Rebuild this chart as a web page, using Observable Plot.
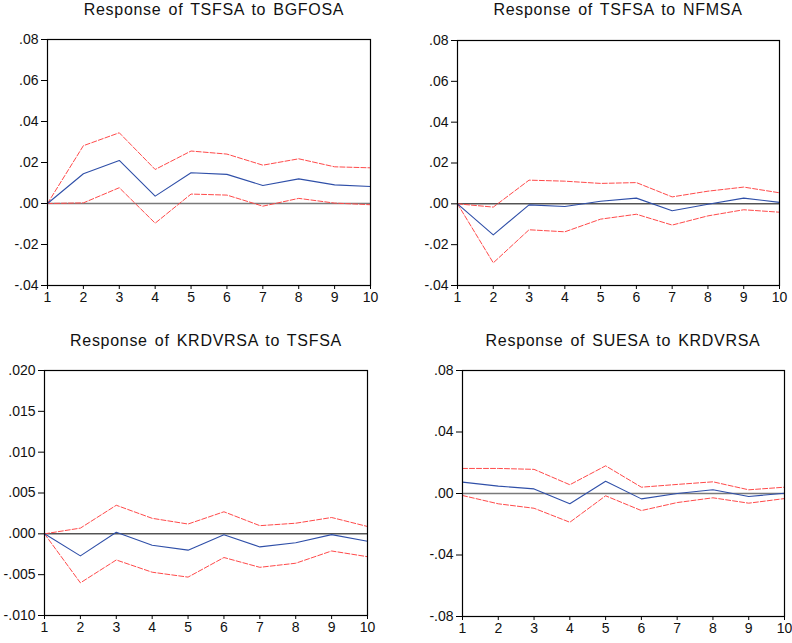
<!DOCTYPE html>
<html>
<head>
<meta charset="utf-8">
<script src="https://cdn.jsdelivr.net/npm/d3@7"></script>
<script src="https://cdn.jsdelivr.net/npm/@observablehq/plot@0.6"></script>
<style>
  html, body { margin: 0; padding: 0; background: #fff; }
  #root { position: relative; width: 792px; height: 643px; overflow: hidden; font-family: "Liberation Sans", Arial, sans-serif; }
  .panel { position: absolute; }
  .panel svg text { font-family: "Liberation Sans", Arial, sans-serif !important; font-size: 14px !important; fill: #111; }
  .title { position: absolute; font-size: 16px; line-height: 16px; letter-spacing: 0.7px; word-spacing: 2px; white-space: nowrap; color: #111; transform: translateX(-50%); }
</style>
</head>
<body>
<div id="root"></div>
<script>
// ---- data ----
const periods = [1, 2, 3, 4, 5, 6, 7, 8, 9, 10];
const periodLabels = ["1", "2", "3", "4", "5", "6", "7", "8", "9", "10"];

const titles = [
  "Response of TSFSA to BGFOSA",
  "Response of TSFSA to NFMSA",
  "Response of KRDVRSA to TSFSA",
  "Response of SUESA to KRDVRSA"
];

// Panel 1: TSFSA to BGFOSA
const p1Response = [0, 0.0145, 0.021, 0.0036, 0.015, 0.0142, 0.0088, 0.012, 0.0091, 0.0083];
const p1Upper    = [0, 0.0282, 0.0345, 0.0166, 0.0256, 0.0241, 0.0187, 0.0218, 0.0179, 0.0174];
const p1Lower    = [0, 0.0003, 0.0077, -0.0096, 0.0046, 0.0041, -0.0013, 0.0025, 0.0002, -0.0006];
const p1Ticks    = [-0.04, -0.02, 0, 0.02, 0.04, 0.06, 0.08];
const p1TickLabels = ["-.04", "-.02", ".00", ".02", ".04", ".06", ".08"];

// Panel 2: TSFSA to NFMSA
const p2Response = [0, -0.0152, -0.0005, -0.0013, 0.0013, 0.0028, -0.0034, -0.0002, 0.0028, 0.0007];
const p2Upper    = [0, -0.0016, 0.0116, 0.0111, 0.0100, 0.0104, 0.0034, 0.0062, 0.0082, 0.0054];
const p2Lower    = [0, -0.0289, -0.0127, -0.0137, -0.0075, -0.0051, -0.0104, -0.0059, -0.0029, -0.0041];
const p2Ticks    = [-0.04, -0.02, 0, 0.02, 0.04, 0.06, 0.08];
const p2TickLabels = ["-.04", "-.02", ".00", ".02", ".04", ".06", ".08"];

// Panel 3: KRDVRSA to TSFSA
const p3Response = [0, -0.0027, 0.0002, -0.0014, -0.0020, -0.0001, -0.0016, -0.0011, -0.0001, -0.0009];
const p3Upper    = [0, 0.0007, 0.0035, 0.0019, 0.0012, 0.0027, 0.0010, 0.0013, 0.0020, 0.0009];
const p3Lower    = [0, -0.0060, -0.0032, -0.0047, -0.0053, -0.0029, -0.0041, -0.0036, -0.0021, -0.0028];
const p3Ticks    = [-0.010, -0.005, 0, 0.005, 0.010, 0.015, 0.020];
const p3TickLabels = ["-.010", "-.005", ".000", ".005", ".010", ".015", ".020"];

// Panel 4: SUESA to KRDVRSA
const p4Response = [0.0074, 0.0048, 0.0030, -0.0067, 0.0080, -0.0035, 0, 0.0024, -0.0020, 0.0002];
const p4Upper    = [0.0163, 0.0163, 0.0157, 0.0057, 0.0180, 0.0041, 0.0059, 0.0076, 0.0024, 0.0041];
const p4Lower    = [-0.0013, -0.0067, -0.0096, -0.0187, -0.0015, -0.0111, -0.0059, -0.0028, -0.0063, -0.0033];
const p4Ticks    = [-0.08, -0.04, 0, 0.04, 0.08];
const p4TickLabels = ["-.08", "-.04", ".00", ".04", ".08"];

// ---- layout ----
const panels = [
  {title: titles[0], resp: p1Response, up: p1Upper, lo: p1Lower, ticks: p1Ticks, labels: p1TickLabels,
   left: 0, top: 0, w: 396, h: 310, mt: 39, mb: 25, ml: 47, mr: 26, tx: 214, ty: 2, zero: "#7a7a7a", zw: 1.6},
  {title: titles[1], resp: p2Response, up: p2Upper, lo: p2Lower, ticks: p2Ticks, labels: p2TickLabels,
   left: 396, top: 0, w: 396, h: 310, mt: 40, mb: 25, ml: 61, mr: 13, tx: 618, ty: 2, zero: "#000", zw: 1},
  {title: titles[2], resp: p3Response, up: p3Upper, lo: p3Lower, ticks: p3Ticks, labels: p3TickLabels,
   left: 0, top: 320, w: 396, h: 323, mt: 50, mb: 28, ml: 44, mr: 29, tx: 206, ty: 333, zero: "#000", zw: 1},
  {title: titles[3], resp: p4Response, up: p4Upper, lo: p4Lower, ticks: p4Ticks, labels: p4TickLabels,
   left: 396, top: 320, w: 396, h: 323, mt: 50, mb: 27, ml: 66, mr: 8, tx: 623, ty: 333, zero: "#7a7a7a", zw: 1.6}
];

const root = document.getElementById("root");
const RED = "#ff4a4a";
const BLUE = "#2f4fa8";

for (const p of panels) {
  const rows = periods.map((t, i) => ({t, resp: p.resp[i], up: p.up[i], lo: p.lo[i]}));
  const labelMap = new Map(p.ticks.map((v, i) => [v, p.labels[i]]));
  const xLabelMap = new Map(periods.map((v, i) => [v, periodLabels[i]]));
  const chart = Plot.plot({
    width: p.w,
    height: p.h,
    marginTop: p.mt,
    marginBottom: p.mb,
    marginLeft: p.ml,
    marginRight: p.mr,
    style: {fontFamily: "'Liberation Sans', Arial, sans-serif", fontSize: "14px", color: "#111", background: "white", overflow: "visible"},
    x: {domain: [1, 10], label: null},
    y: {domain: [p.ticks[0], p.ticks[p.ticks.length - 1]], label: null},
    marks: [
      Plot.ruleY([0], {stroke: p.zero, strokeWidth: p.zw}),
      Plot.line(rows, {x: "t", y: "up", stroke: RED, strokeWidth: 1, strokeDasharray: "5,2"}),
      Plot.line(rows, {x: "t", y: "lo", stroke: RED, strokeWidth: 1, strokeDasharray: "5,2"}),
      Plot.line(rows, {x: "t", y: "resp", stroke: BLUE, strokeWidth: 1.1}),
      Plot.frame({stroke: "#000", strokeWidth: 1.2}),
      Plot.axisY(p.ticks, {tickSize: 6, tickPadding: 3, tickFormat: d => labelMap.get(d), stroke: "#000", label: null}),
      Plot.axisX(periods, {tickSize: 4, tickPadding: 3, tickFormat: d => xLabelMap.get(d), stroke: "#000", label: null})
    ]
  });
  const div = document.createElement("div");
  div.className = "panel";
  div.style.left = p.left + "px";
  div.style.top = p.top + "px";
  div.appendChild(chart);
  root.appendChild(div);

  const t = document.createElement("div");
  t.className = "title";
  t.style.left = p.tx + "px";
  t.style.top = p.ty + "px";
  t.textContent = p.title;
  root.appendChild(t);
}
</script>
</body>
</html>
